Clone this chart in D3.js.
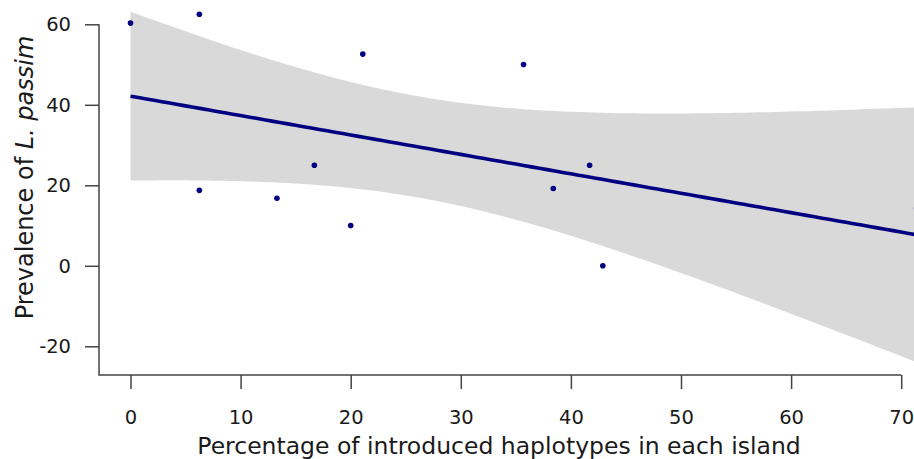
<!DOCTYPE html>
<html>
<head>
<meta charset="utf-8">
<script src="https://cdn.jsdelivr.net/npm/d3@7"></script>
<style>
  html, body { margin: 0; padding: 0; background: #fff; }
  svg { display: block; }
</style>
</head>
<body>
<svg id="chart" width="914" height="459"></svg>
<script>
// ---- data ----
const introducedPct = [0, 6.25, 6.25, 13.3, 16.7, 20, 21.1, 35.7, 38.4, 41.7, 42.9, 71.4];
const prevalence    = [60.3, 62.5, 18.75, 16.8, 25, 10, 52.6, 50, 19.2, 25, 0, 14.3];
const xTicks = [0, 10, 20, 30, 40, 50, 60, 70];
const yTicks = [-20, 0, 20, 40, 60];
const xTitle = "Percentage of introduced haplotypes in each island";
const yTitleA = "Prevalence of ";
const yTitleB = "L. passim";
const tCrit = 2.228; // t(0.975, df = 10)

// ---- layout ----
const axisLeft = 99, axisBottom = 375;
const svg = d3.select("#chart");

const x = d3.scaleLinear().domain([0, 70]).range([130.5, 901.2]);
const y = d3.scaleLinear().domain([-20, 60]).range([346.3, 24.3]);

// ---- linear regression with 95% confidence band ----
const pts = introducedPct.map((v, i) => ({x: v, y: prevalence[i]}));
const n = pts.length;
const mx = d3.mean(pts, d => d.x), my = d3.mean(pts, d => d.y);
const sxx = d3.sum(pts, d => (d.x - mx) ** 2);
const sxy = d3.sum(pts, d => (d.x - mx) * (d.y - my));
const b = sxy / sxx, a = my - b * mx;
const s = Math.sqrt(d3.sum(pts, d => (d.y - (a + b * d.x)) ** 2) / (n - 2));
const xMin = d3.min(introducedPct), xMax = d3.max(introducedPct);
const grid = d3.range(0, 101).map(i => xMin + (xMax - xMin) * i / 100);
const band = grid.map(g => {
  const fit = a + b * g;
  const se = s * Math.sqrt(1 / n + (g - mx) ** 2 / sxx);
  return {x: g, lo: fit - tCrit * se, hi: fit + tCrit * se, fit};
});

svg.append("path")
  .datum(band)
  .attr("fill", "#d9d9d9")
  .attr("stroke", "none")
  .attr("d", d3.area().x(d => x(d.x)).y0(d => y(d.lo)).y1(d => y(d.hi)));

svg.append("path")
  .datum(band)
  .attr("fill", "none")
  .attr("stroke", "#000080")
  .attr("stroke-width", 3.6)
  .attr("d", d3.line().x(d => x(d.x)).y(d => y(d.fit)));

svg.append("g").selectAll("circle")
  .data(pts).join("circle")
  .attr("cx", d => x(d.x))
  .attr("cy", d => y(d.y))
  .attr("r", 2.8)
  .attr("fill", "#000080");

// ---- axes ----
const axisColor = "#444";
const font = "'DejaVu Sans', Verdana, sans-serif";
const fmt = d => String(d);

const gx = svg.append("g")
  .attr("transform", `translate(0,${axisBottom})`)
  .call(d3.axisBottom(x).tickValues(xTicks).tickFormat(fmt).tickSize(14).tickSizeOuter(0).tickPadding(21));
gx.select(".domain").remove();
gx.selectAll(".tick line").attr("stroke", axisColor).attr("stroke-width", 1.5);
gx.selectAll(".tick text").attr("fill", "#1a1a1a")
  .style("font-family", font).style("font-size", "19.5px");

const gy = svg.append("g")
  .attr("transform", `translate(${axisLeft},0)`)
  .call(d3.axisLeft(y).tickValues(yTicks).tickFormat(fmt).tickSize(14).tickSizeOuter(0).tickPadding(14));
gy.select(".domain").remove();
gy.selectAll(".tick line").attr("stroke", axisColor).attr("stroke-width", 1.5);
gy.selectAll(".tick text").attr("fill", "#1a1a1a")
  .style("font-family", font).style("font-size", "19.5px");

// L-shaped axis lines
svg.append("path")
  .attr("fill", "none")
  .attr("stroke", axisColor)
  .attr("stroke-width", 1.5)
  .attr("d", `M${axisLeft},${y(60)}V${axisBottom}H${x(70)}`);

// ---- titles ----
svg.append("text")
  .attr("x", 499).attr("y", 454)
  .attr("text-anchor", "middle")
  .attr("fill", "#1a1a1a")
  .style("font-family", font).style("font-size", "23.5px")
  .text(xTitle);

const yt = svg.append("text")
  .attr("transform", "translate(33,177.5) rotate(-90)")
  .attr("text-anchor", "middle")
  .attr("fill", "#1a1a1a")
  .style("font-family", font).style("font-size", "24px");
yt.append("tspan").text(yTitleA);
yt.append("tspan").style("font-style", "italic").text(yTitleB);
</script>
</body>
</html>
